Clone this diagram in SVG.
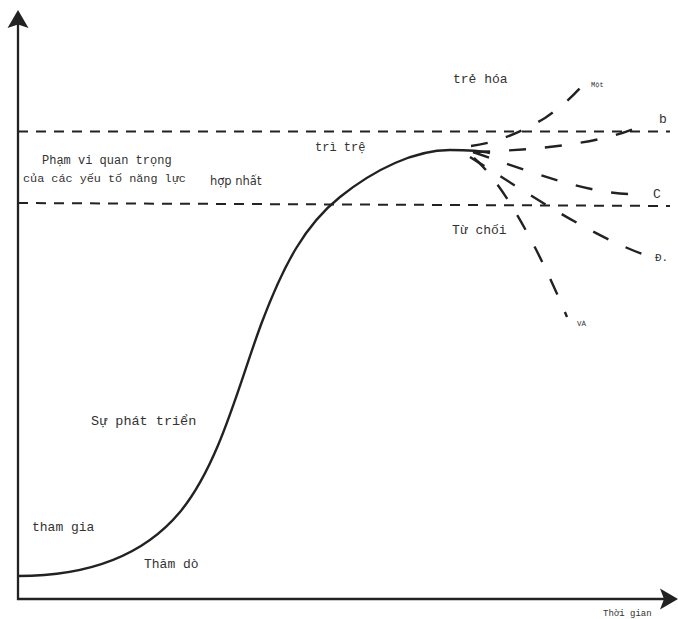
<svg xmlns="http://www.w3.org/2000/svg" width="678" height="619" viewBox="0 0 678 619">
<style>
.ax{stroke:#222;stroke-width:2.3;fill:none}
.hd{fill:#222;stroke:none}
.lvl{stroke:#222;stroke-width:2;stroke-dasharray:10 8;fill:none}
.crv{stroke:#222;stroke-width:2.4;fill:none}
.br{stroke:#222;stroke-width:2.4;stroke-dasharray:17 19;fill:none}
.t{font-family:"Liberation Mono","DejaVu Sans Mono",monospace;fill:#333}
.s{font-family:"DejaVu Sans","Liberation Sans",sans-serif;fill:#333}
</style>
<rect width="678" height="619" fill="#fff"/>
<g id="axes">
<line class="ax" x1="18" y1="24" x2="18" y2="600"/>
<line class="ax" x1="17" y1="599" x2="665" y2="599"/>
<polygon class="hd" points="18,10 28.5,28 18,24.5 7.5,28"/>
<polygon class="hd" points="678,599 660,609.5 664,599 660,588.5"/>
</g>
<g id="levels">
<line class="lvl" x1="18" y1="131.5" x2="670" y2="131.5"/>
<line class="lvl" x1="18" y1="203" x2="670" y2="206"/>
</g>
<g id="curve">
<path class="crv" d="M18,576 C80,576 140,560 180,512 C220,464 240,380 262,322 C284,264 305,225 340,197 C375,169 415,150 450,150 C470,150 482,151 490,153"/>
</g>
<g id="connectors">
<path class="br" d="M471,146 C495,143 520,133 545,118 C560,108 572,97 582,86"/>
<path class="br" d="M473,152 C540,150 600,143 636,128"/>
<path class="br" d="M473,152 C530,172 590,194 632,194"/>
<path class="br" d="M470,157 C530,195 590,235 645,255"/>
<path class="br" d="M474,158 C500,180 535,240 567,317"/>
</g>
<g id="labels">
<text class="t" x="453" y="83" font-size="13">trẻ hóa</text>
<text class="t" x="591" y="87" font-size="7">Một</text>
<text class="t" x="659" y="123" font-size="13">b</text>
<text class="t" x="315" y="151" font-size="12">trì trệ</text>
<text class="t" x="42" y="164" font-size="12">Phạm vi quan trọng</text>
<text class="t" x="23" y="182" font-size="11.8">của các yếu tố năng lực</text>
<text class="s" x="210" y="185" font-size="11.5">hợp nhất</text>
<text class="t" x="653" y="198" font-size="13">C</text>
<text class="t" x="452" y="234" font-size="13">Từ chối</text>
<text class="t" x="655" y="261" font-size="11">Đ.</text>
<text class="t" x="577" y="326" font-size="7.5">VÀ</text>
<text class="t" x="91" y="425" font-size="13.5">Sự phát triển</text>
<text class="t" x="32" y="531" font-size="13">tham gia</text>
<text class="t" x="144" y="568" font-size="13">Thăm dò</text>
<text class="t" x="603" y="616" font-size="9">Thời gian</text>
</g>
</svg>
